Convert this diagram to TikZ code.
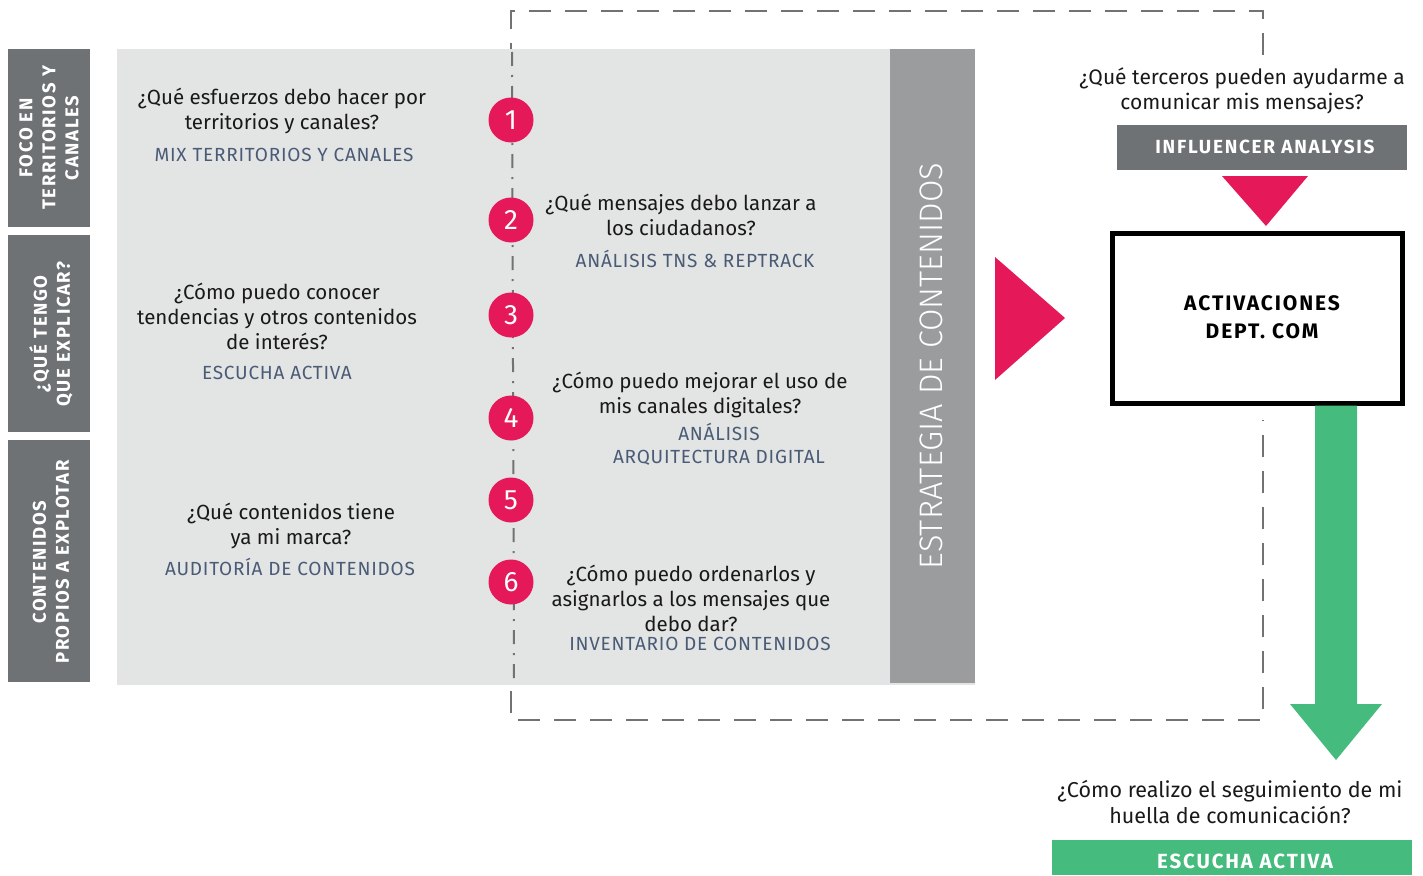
\documentclass[tikz,border=0pt]{standalone}
\usepackage{fontspec}
\setmainfont{Fira Sans}
\newfontfamily\lightfont{Fira Sans}[UprightFont=* Light]
\usetikzlibrary{calc}
\definecolor{tabgrey}{HTML}{6F7274}
\definecolor{panelgrey}{HTML}{E3E4E4}
\definecolor{bandgrey}{HTML}{9A9C9D}
\definecolor{dashgrey}{HTML}{707274}
\definecolor{hotpink}{HTML}{E5195A}
\definecolor{slate}{HTML}{4A5B76}
\definecolor{escgreen}{HTML}{45BB7E}
\tikzset{
	question/.style={align=center, inner sep=0pt, text=black!90, font=\fontsize{20.5}{25}\selectfont},
	tool/.style={align=center, inner sep=0pt, text=slate, font=\fontsize{19}{23}\selectfont\addfontfeatures{LetterSpace=4}},
	stepdot/.style={circle, fill=hotpink, minimum size=45pt, inner sep=0pt, text=white, font=\fontsize{28}{28}\selectfont},
	tabtext/.style={rotate=90, align=center, inner sep=0pt, text=white, font=\bfseries\fontsize{18.5}{23}\selectfont\addfontfeatures{LetterSpace=9}},
	barlabel/.style={inner sep=0pt, text=white, font=\bfseries\fontsize{19}{20}\selectfont\addfontfeatures{LetterSpace=9}}
}

\begin{document}
\begin{tikzpicture}[x=1pt, y=-1pt]
			%%%%% START %%%%%
			\useasboundingbox (0, 0) rectangle (1423, 875);
			
			\draw[dashgrey, line width=2.5, dash pattern=on 22pt off 14pt] (1263, 55) -- (1263, 11) -- (511, 11) -- (511, 720) -- (1263, 720) -- (1263, 420);
			
			\fill[panelgrey] (117, 49) rectangle (975, 685);
			\draw[dashgrey, line width=2, dash pattern=on 14pt off 9pt on 2pt off 9pt] (512, 52) -- (514, 682);
			\fill[bandgrey] (890, 49) rectangle (975, 683);
			\node[rotate=90, inner sep=0pt, text=white, font=\lightfont\fontsize{32.5}{32}\selectfont] (band) at (931, 366) {ESTRATEGIA DE CONTENIDOS};
			
			\fill[tabgrey] (8, 49) rectangle (90, 227);
			\node[tabtext] (tab1) at (49, 138) {FOCO EN\\TERRITORIOS Y\\CANALES};
			\fill[tabgrey] (8, 235) rectangle (90, 432);
			\node[tabtext] (tab2) at (51, 334) {¿QUÉ TENGO\\QUE EXPLICAR?};
			\fill[tabgrey] (8, 440) rectangle (90, 682);
			\node[tabtext] (tab3) at (51, 562) {CONTENIDOS\\PROPIOS A EXPLOTAR};
			
			\node[stepdot] (n1) at (511, 120) {1};
			\node[stepdot] (n2) at (511, 220) {2};
			\node[stepdot] (n3) at (511, 315) {3};
			\node[stepdot] (n4) at (511, 418) {4};
			\node[stepdot] (n5) at (511, 500) {5};
			\node[stepdot] (n6) at (511, 582) {6};
			
			\node[question] (q1) at (282, 111) {¿Qué esfuerzos debo hacer por\\territorios y canales?};
			\node[tool] (t1) at (284, 155) {MIX TERRITORIOS Y CANALES};
			\node[question] (q2) at (681, 215) {¿Qué mensajes debo lanzar a\\los ciudadanos?};
			\node[tool] (t2) at (695, 259) {ANÁLISIS TNS \& REPTRACK};
			\node[question] (q3) at (277, 316) {¿Cómo puedo conocer\\tendencias y otros contenidos\\de interés?};
			\node[tool] (t3) at (277, 373) {ESCUCHA ACTIVA};
			\node[question] (q4) at (700, 395) {¿Cómo puedo mejorar el uso de\\mis canales digitales?};
			\node[tool] (t4) at (719, 444) {ANÁLISIS\\ARQUITECTURA DIGITAL};
			\node[question] (q5) at (291, 526) {¿Qué contenidos tiene\\ya mi marca?};
			\node[tool] (t5) at (290, 567) {AUDITORÍA DE CONTENIDOS};
			\node[question] (q6) at (691, 598) {¿Cómo puedo ordenarlos y\\asignarlos a los mensajes que\\debo dar?};
			\node[tool] (t6) at (700, 644) {INVENTARIO DE CONTENIDOS};
			
			\fill[hotpink] (995, 257) -- (1065, 318) -- (995, 380) -- cycle;
			
			\node[question, font=\fontsize{21}{25}\selectfont] (q7) at (1242, 91) {¿Qué terceros pueden ayudarme a\\comunicar mis mensajes?};
			\fill[tabgrey] (1117, 125) rectangle (1407, 170);
			\node[barlabel] (influencer) at (1265, 147) {INFLUENCER ANALYSIS};
			\fill[hotpink] (1222, 176) -- (1308, 176) -- (1266, 226) -- cycle;
			
			\draw[line width=5, fill=white] (1112, 233) rectangle (1402, 403);
			\node[align=center, inner sep=0pt, font=\bfseries\fontsize{21}{28}\selectfont\addfontfeatures{LetterSpace=9}] (activ) at (1262, 317) {ACTIVACIONES\\DEPT. COM};
			
			\fill[escgreen] (1315, 405.5) -- (1357, 405.5) -- (1357, 704) -- (1382, 704) -- (1336, 760) -- (1290, 704) -- (1315, 704) -- cycle;
			
			\node[question, font=\fontsize{21.5}{26}\selectfont] (q8) at (1230, 802) {¿Cómo realizo el seguimiento de mi\\huella de comunicación?};
			\fill[escgreen] (1052, 840) rectangle (1412, 875);
			\node[barlabel, font=\bfseries\fontsize{20.5}{20}\selectfont\addfontfeatures{LetterSpace=9}] (escucha) at (1245, 861) {ESCUCHA ACTIVA};
			
			%%%%% END %%%%%
		\end{tikzpicture}
\end{document}
